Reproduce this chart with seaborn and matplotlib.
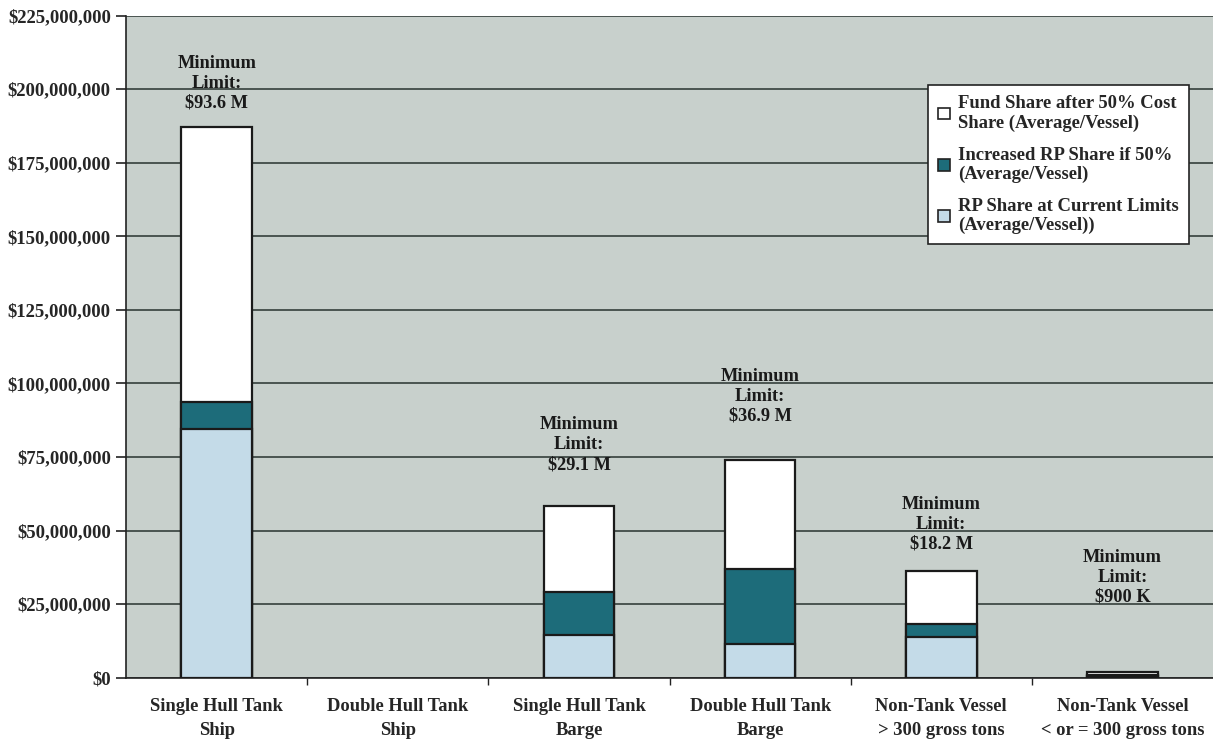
import matplotlib
matplotlib.use("Agg")
import matplotlib.pyplot as plt
import matplotlib.ticker as mticker
from matplotlib.patches import Patch
import numpy as np
import pandas as pd
import seaborn as sns

categories = [
    "Single Hull Tank\nShip",
    "Double Hull Tank\nShip",
    "Single Hull Tank\nBarge",
    "Double Hull Tank\nBarge",
    "Non-Tank Vessel\n> 300 gross tons",
    "Non-Tank Vessel\n< or = 300 gross tons",
]
# values in $ millions
rp_current = [84.6, 0.0, 14.6, 11.5, 13.9, 0.5]
rp_increase = [9.0, 0.0, 14.5, 25.4, 4.3, 0.4]
fund_share = [93.6, 0.0, 29.1, 36.9, 18.2, 0.9]
min_limit_labels = ["$93.6 M", None, "$29.1 M", "$36.9 M", "$18.2 M", "$900 K"]

series_names = [
    "Fund Share after 50% Cost\nShare (Average/Vessel)",
    "Increased RP Share if 50%\n(Average/Vessel)",
    "RP Share at Current Limits\n(Average/Vessel))",
]
colors = ["#ffffff", "#1d6c7a", "#c4dbe8"]

# vertical gap (points) between each bar top and its label block
label_gap_pts = [11, 0, 24, 26, 13, 48]

sns.set_style("white")
plt.rcParams["font.family"] = ["Liberation Serif", "DejaVu Serif"]
plt.rcParams["font.weight"] = "bold"

df = pd.DataFrame({
    "category": categories,
    "rp": np.array(rp_current) * 1e6,
    "rp_inc": (np.array(rp_current) + np.array(rp_increase)) * 1e6,
    "total": (np.array(rp_current) + np.array(rp_increase) + np.array(fund_share)) * 1e6,
})

fig = plt.figure(figsize=(12.13, 7.43), dpi=100)
ax = fig.add_axes([0.104, 0.088, 0.896, 0.891])
ax.set_facecolor("#c8d0cc")
fig.patch.set_facecolor("white")

# stacked bars: draw cumulative totals back to front
for col, c in zip(["total", "rp_inc", "rp"], colors):
    sns.barplot(data=df, x="category", y=col, color=c, width=0.39,
                edgecolor="#1a1a1a", linewidth=1.6, saturation=1, ax=ax, zorder=3)
for p in ax.patches:
    if p.get_height() == 0:
        p.set_linewidth(0)

ax.set_ylim(0, 225e6)
ax.set_xlim(-0.5, 5.5)
ax.yaxis.set_major_locator(mticker.MultipleLocator(25e6))
ax.yaxis.set_major_formatter(mticker.FuncFormatter(lambda v, p: f"${v:,.0f}"))
ax.grid(axis="y", color="#4a5450", linewidth=1.4, zorder=1)
ax.set_axisbelow(True)
ax.set_xlabel("")
ax.set_ylabel("")

for s in ["top", "right"]:
    ax.spines[s].set_visible(False)
for s in ["left", "bottom"]:
    ax.spines[s].set_color("#222222")
    ax.spines[s].set_linewidth(1.2)

ax.tick_params(axis="y", which="major", length=7, width=1.2, color="#222222",
               labelsize=13.5, pad=4, direction="out", left=True)
ax.tick_params(axis="x", which="major", length=0, labelsize=13.3, pad=15)
ax.xaxis.set_minor_locator(mticker.FixedLocator(np.arange(0.5, 5.5, 1.0)))
ax.tick_params(axis="x", which="minor", length=5, width=1, color="#222222", bottom=True)
for lbl in ax.get_xticklabels():
    lbl.set_fontweight("bold")
    lbl.set_linespacing(1.5)
for lbl in ax.get_yticklabels():
    lbl.set_fontweight("bold")

for i, lab in enumerate(min_limit_labels):
    if lab is None:
        continue
    top = df["total"].iloc[i]
    ax.annotate(f"Minimum\nLimit:\n{lab}", xy=(i, top), xytext=(0, label_gap_pts[i]),
                textcoords="offset points", ha="center", va="bottom",
                fontsize=13.2, fontweight="bold", color="#1a1a1a",
                linespacing=1.22, zorder=5)

handles = [Patch(facecolor=c, edgecolor="#222222", linewidth=1.2) for c in colors]
leg = ax.legend(handles, series_names, loc="upper left",
                bbox_to_anchor=(0.738, 0.895), borderaxespad=0, frameon=True,
                fancybox=False, edgecolor="#222222", facecolor="white",
                framealpha=1, prop={"weight": "bold", "size": 13.4},
                handlelength=0.6, handleheight=0.6, handletextpad=0.45,
                labelspacing=0.8, borderpad=0.55)
leg.get_frame().set_linewidth(1.2)
leg.set_zorder(6)
for t in leg.get_texts():
    t.set_linespacing(1.15)

fig.savefig("out.png", dpi=100)
